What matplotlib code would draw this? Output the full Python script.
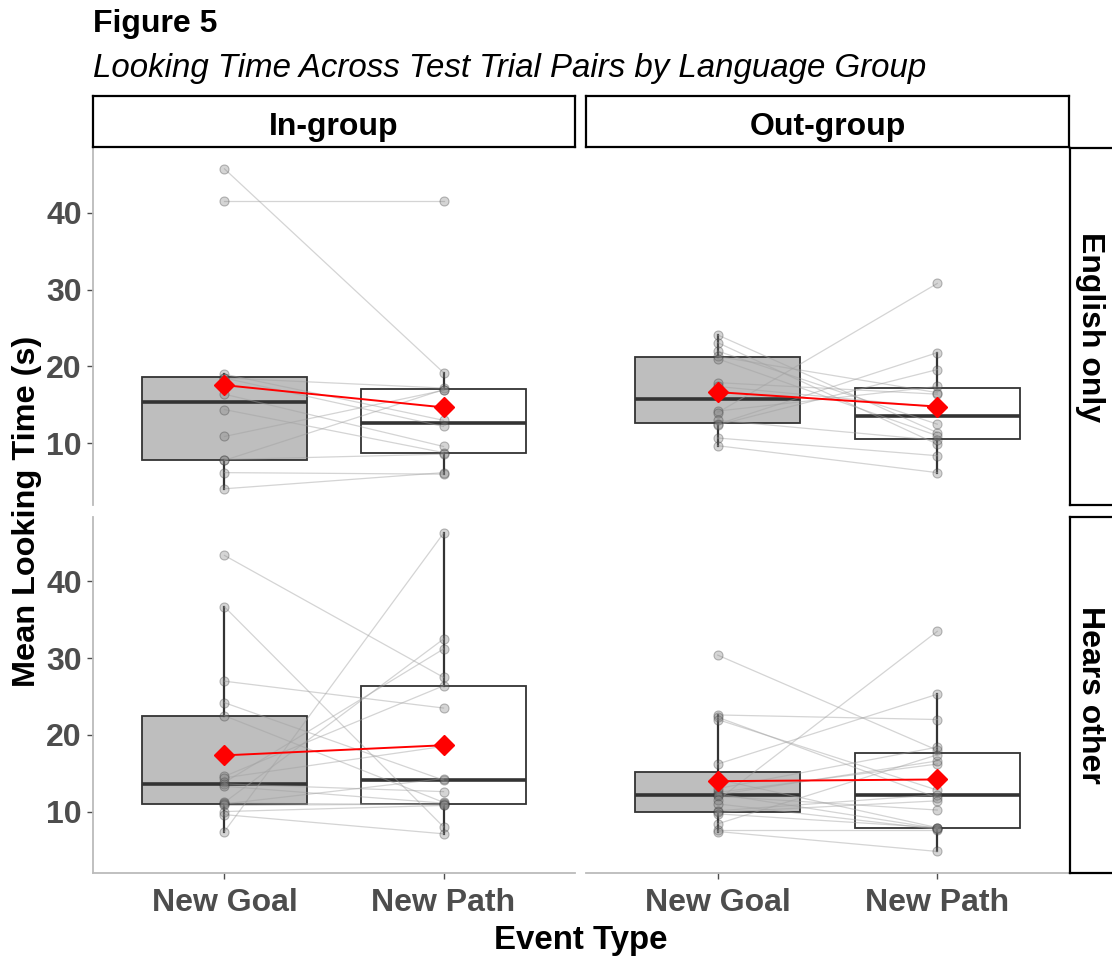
import matplotlib
matplotlib.use('Agg')
import matplotlib.pyplot as plt
import numpy as np

plt.rcParams['font.family'] = ['Liberation Sans', 'DejaVu Sans']

events = ['New Goal', 'New Path']
groups = ['In-group', 'Out-group']
languages = ['English only', 'Hears other']

# mean looking time (s) per infant, paired New Goal / New Path
eng_in_goal = [45.7, 41.5, 19.0, 18.5, 18.5, 16.4, 14.4, 10.9, 7.9, 7.8, 6.2, 4.1]
eng_in_path = [19.2, 41.5, 13.0, 17.2, 12.2, 9.6, 8.8, 16.9, 8.6, 17.0, 6.0, 6.2]

eng_out_goal = [24.1, 23.1, 22.0, 21.3, 21.0, 17.9, 17.4, 14.2, 14.0, 13.0, 12.5, 12.4, 10.7, 9.7]
eng_out_path = [11.4, 9.9, 12.5, 16.6, 11.0, 16.4, 14.7, 17.4, 30.8, 10.4, 21.8, 19.6, 8.4, 6.2]

oth_in_goal = [43.4, 36.7, 27.0, 24.2, 22.5, 14.6, 14.4, 13.8, 13.6, 13.3, 11.2, 11.1, 11.0, 10.8, 10.0, 9.6, 7.4]
oth_in_path = [27.5, 8.0, 23.5, 14.1, 11.2, 26.4, 18.5, 31.2, 12.6, 11.1, 32.5, 10.9, 14.3, 11.0, 10.8, 7.1, 46.3]

oth_out_goal = [30.4, 22.6, 22.3, 22.0, 16.2, 14.2, 13.0, 12.5, 12.3, 12.2, 12.0, 11.5, 11.0, 10.1, 9.9, 9.7, 8.4, 7.6, 7.4]
oth_out_path = [18.0, 22.0, 11.8, 12.8, 25.3, 7.9, 18.4, 16.2, 7.8, 16.6, 10.2, 33.5, 7.7, 12.2, 11.4, 7.9, 17.4, 7.6, 4.8]

panels = {
    (0, 0): (eng_in_goal, eng_in_path),
    (0, 1): (eng_out_goal, eng_out_path),
    (1, 0): (oth_in_goal, oth_in_path),
    (1, 1): (oth_out_goal, oth_out_path),
}

W, H = 1112, 958
fig = plt.figure(figsize=(W / 100, H / 100), dpi=100)


def px_axes(x0, y0, x1, y1):
    # pixel box (from top-left) -> figure axes
    return fig.add_axes([x0 / W, 1 - y1 / H, (x1 - x0) / W, (y1 - y0) / H])


col_x = [(93, 575), (586, 1069)]
row_y = [(148, 505), (517, 873)]

allv = np.concatenate([np.r_[g, p] for g, p in panels.values()])
lo, hi = allv.min(), allv.max()
pad = (hi - lo) * 0.05
ylim = (lo - pad, hi + pad)

axis_col = '#BBBBBB'
tick_col = '#4D4D4D'
box_edge = '#333333'

for (r, c), (goal, path) in panels.items():
    ax = px_axes(col_x[c][0], row_y[r][0], col_x[c][1], row_y[r][1])
    bp = ax.boxplot([goal, path], positions=[1, 2], widths=0.75, patch_artist=True,
                    showfliers=False, showcaps=False, whis=1.5,
                    boxprops=dict(edgecolor=box_edge, linewidth=1.3),
                    whiskerprops=dict(color=box_edge, linewidth=1.6),
                    medianprops=dict(color=box_edge, linewidth=2.6))
    bp['boxes'][0].set_facecolor('#BEBEBE')
    bp['boxes'][1].set_facecolor('white')

    for g, p in zip(goal, path):
        ax.plot([1, 2], [g, p], color='#A0A0A0', lw=0.9, alpha=0.45, zorder=3)
    for x, vals in ((1, goal), (2, path)):
        ax.plot([x] * len(vals), vals, 'o', ms=6.5, mfc='#7F7F7F', mec='#333333',
                mew=0.8, alpha=0.32, zorder=4, linestyle='none')

    means = [np.mean(goal), np.mean(path)]
    ax.plot([1, 2], means, color='red', lw=1.4, marker='D', ms=10, zorder=6)

    ax.set_xlim(0.4, 2.6)
    ax.set_ylim(*ylim)
    ax.set_yticks([10, 20, 30, 40])
    ax.set_xticks([1, 2])
    for s in ax.spines.values():
        s.set_visible(False)
    ax.tick_params(length=4, width=1, color=tick_col, labelcolor=tick_col,
                   labelsize=23, pad=4)
    ax.tick_params(axis='x', pad=7)
    if c == 0:
        ax.spines['left'].set_visible(True)
        ax.spines['left'].set_color(axis_col)
        ax.spines['left'].set_linewidth(1.3)
        ax.set_yticklabels(['10', '20', '30', '40'], fontweight='bold')
    else:
        ax.tick_params(axis='y', left=False, labelleft=False)
    if r == 1:
        ax.spines['bottom'].set_visible(True)
        ax.spines['bottom'].set_color(axis_col)
        ax.spines['bottom'].set_linewidth(1.3)
        ax.set_xticklabels(events, fontweight='bold')
    else:
        ax.tick_params(axis='x', bottom=False, labelbottom=False)

# facet strips
for c, name in enumerate(groups):
    sa = px_axes(col_x[c][0], 96, col_x[c][1], 147)
    sa.set_xticks([])
    sa.set_yticks([])
    for s in sa.spines.values():
        s.set_linewidth(1.6)
        s.set_color('black')
    sa.text(0.5, 0.4, name, ha='center', va='center', fontsize=23, fontweight='bold',
            transform=sa.transAxes)

for r, name in enumerate(languages):
    sa = px_axes(1070, row_y[r][0], 1118, row_y[r][1])
    sa.set_xticks([])
    sa.set_yticks([])
    for s in sa.spines.values():
        s.set_linewidth(1.6)
        s.set_color('black')
    sa.text(0.42, 0.5, name, ha='center', va='center', fontsize=23, fontweight='bold',
            rotation=-90, transform=sa.transAxes)

fig.text(93 / W, 1 - 24 / H, 'Figure 5', fontsize=23, fontweight='bold', va='center')
fig.text(93 / W, 1 - 69 / H, 'Looking Time Across Test Trial Pairs by Language Group',
         fontsize=23.8, style='italic', va='center')
fig.text(27 / W, 1 - 511 / H, 'Mean Looking Time (s)', fontsize=23.4, fontweight='bold',
         rotation=90, ha='center', va='center')
fig.text(581 / W, 1 - 940 / H, 'Event Type', fontsize=23.8, fontweight='bold',
         ha='center', va='center')

fig.savefig('out.png', dpi=100)
